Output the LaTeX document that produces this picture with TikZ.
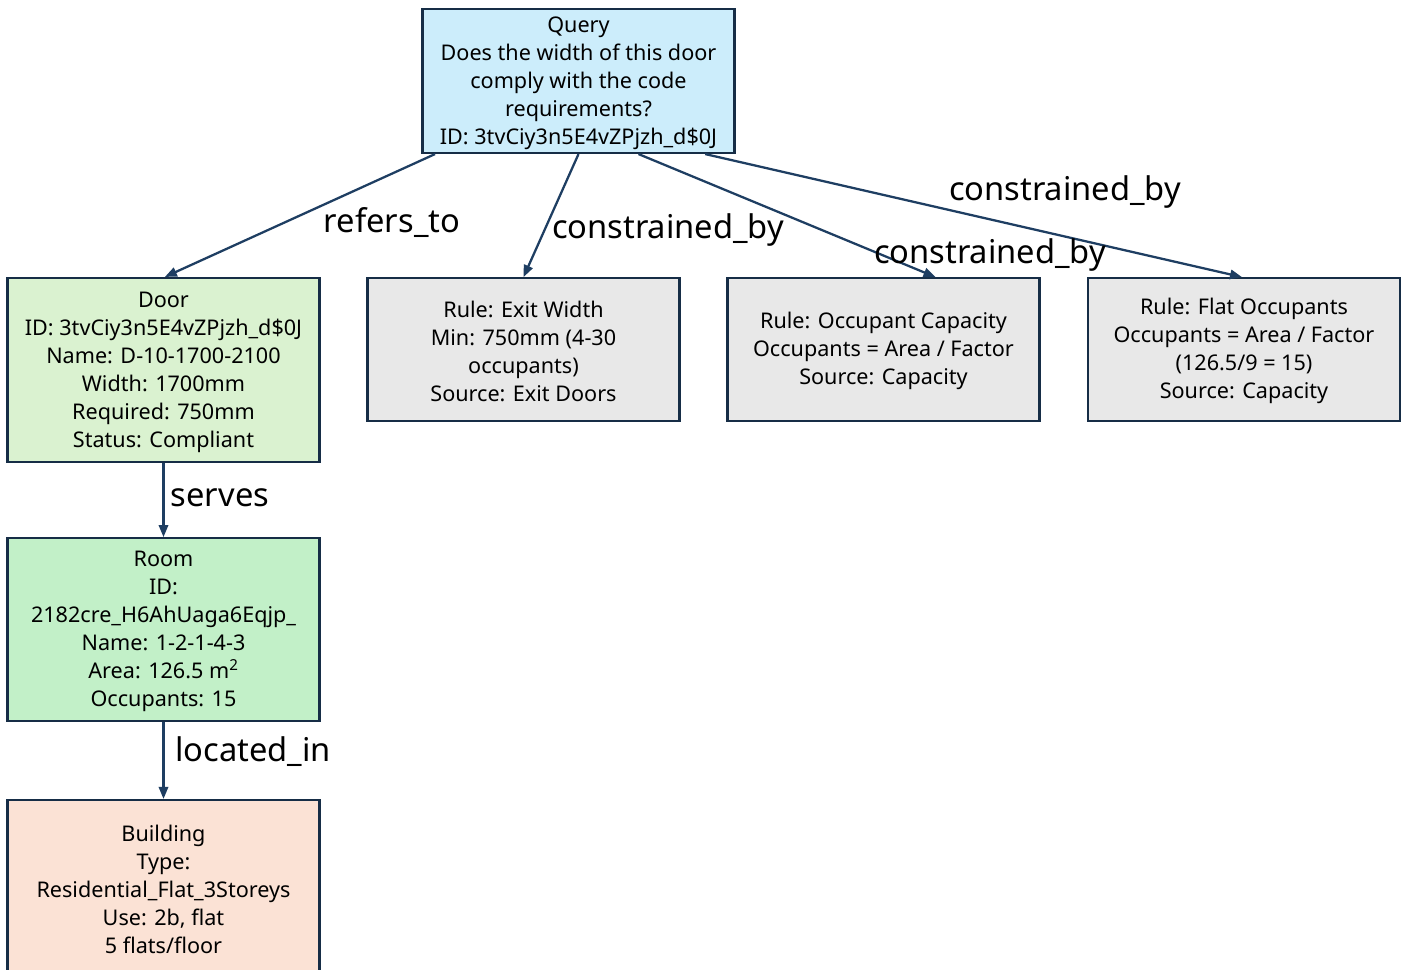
\documentclass[tikz,border=0pt]{standalone}
\usepackage{fontspec}
\setmainfont{Noto Sans}
\usetikzlibrary{arrows.meta}
\definecolor{qfill}{RGB}{204,237,251}
\definecolor{dfill}{RGB}{218,242,208}
\definecolor{rfill}{RGB}{194,240,200}
\definecolor{bfill}{RGB}{251,226,213}
\definecolor{gfill}{RGB}{232,232,232}
\definecolor{bord}{RGB}{22,45,70}
\definecolor{arr}{RGB}{30,62,98}
\tikzset{
  box/.style={draw=bord, line width=1.6pt, align=center, inner sep=0pt,
    font=\fontsize{16.2}{21}\selectfont, minimum width=234pt},
  conn/.style={draw=arr, line width=1.7pt, -{Triangle[length=9pt,width=7pt]}},
  lbl/.style={font=\fontsize{24.5}{28}\selectfont, inner sep=0pt}
}
\begin{document}
\begin{tikzpicture}[x=0.75pt,y=-0.75pt]
\useasboundingbox (0,0) rectangle (1407,970);
\fill[white] (0,0) rectangle (1407,970);
\node[box, fill=qfill, minimum height=108pt] (q) at (578.5,81)
  {\strut Query\\Does the width of this door\\comply with the code\\requirements?\\ID: 3tvCiy3n5E4vZPjzh\_d\$0J};
\node[box, fill=dfill, minimum height=138pt] (door) at (163.5,370)
  {\strut Door\\ID: 3tvCiy3n5E4vZPjzh\_d\$0J\\Name: D-10-1700-2100\\Width: 1700mm\\Required: 750mm\\Status: Compliant};
\node[box, fill=rfill, minimum height=137pt] (room) at (163.5,629.5)
  {\strut Room\\ID:\\2182cre\_H6AhUaga6Eqjp\_\\Name: 1-2-1-4-3\\Area: 126.5 m\textsuperscript{2}\\Occupants: 15};
\node[box, fill=bfill, minimum height=132pt] (bld) at (163.5,888)
  {\strut Building\\Type:\\Residential\_Flat\_3Storeys\\Use: 2b, flat\\5 flats/floor};
\node[box, fill=gfill, minimum height=107pt] (exit) at (523.5,349.5)
  {\strut Rule: Exit Width\\Min: 750mm (4-30\\occupants)\\Source: Exit Doors};
\node[box, fill=gfill, minimum height=107pt] (occ) at (883.5,349.5)
  {\strut Rule: Occupant Capacity\\Occupants = Area / Factor\\Source: Capacity};
\node[box, fill=gfill, minimum height=107pt] (flat) at (1244,349.5)
  {\strut Rule: Flat Occupants\\Occupants = Area / Factor\\(126.5/9 = 15)\\Source: Capacity};
\draw[conn] ([xshift=-107.6pt]q.south) -- ([xshift=1pt]door.north);
\draw[conn] (q.south) -- (exit.north);
\draw[conn] ([xshift=45pt]q.south) -- ([xshift=39pt]occ.north);
\draw[conn] ([xshift=95pt]q.south) -- ([xshift=-1.5pt]flat.north);
\draw[conn] (door.south) -- (room.north);
\draw[conn] (room.south) -- (bld.north);
\node[lbl] (l1) at (392,223) {refers\_to};
\node[lbl] (l2) at (668,230) {constrained\_by};
\node[lbl] (l3) at (990,255) {constrained\_by};
\node[lbl] (l4) at (1065,192) {constrained\_by};
\node[lbl] (l5) at (220,498) {serves};
\node[lbl] (l6) at (253,752) {located\_in};
\end{tikzpicture}
\end{document}
